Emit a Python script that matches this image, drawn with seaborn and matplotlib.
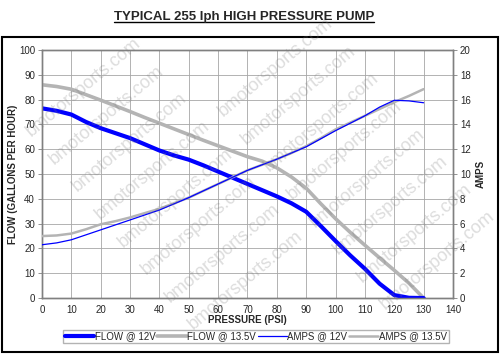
import numpy as np
import pandas as pd
import matplotlib
matplotlib.use("Agg")
import matplotlib.pyplot as plt
from matplotlib.patches import Rectangle
from matplotlib.lines import Line2D
import seaborn as sns

# ---------------------------------------------------
# data
# ---------------------------------------------------
pressure = [0, 5, 10, 15, 20, 25, 30, 35, 40, 45, 50, 55, 60, 65,
            70, 75, 80, 85, 90, 95, 100, 105, 110, 115, 120, 125, 130]

flow_12v = [76.5, 75.5, 74.0, 71.0, 68.5, 66.5, 64.5, 62.0, 59.5, 57.5, 55.8, 53.5, 51.0, 48.5,
            46.0, 43.5, 41.0, 38.2, 34.8, 29.0, 23.0, 17.2, 11.8, 5.8, 1.2, 0.1, 0.0]
flow_135v = [86.0, 85.3, 84.2, 82.0, 79.8, 77.5, 75.2, 72.8, 70.5, 68.2, 65.9, 63.6, 61.4, 59.2,
             57.0, 55.2, 52.5, 48.8, 44.3, 38.0, 32.0, 26.5, 21.3, 16.2, 11.2, 6.0, 0.0]
amps_12v = [4.3, 4.45, 4.7, 5.1, 5.5, 5.9, 6.3, 6.7, 7.1, 7.6, 8.1, 8.65, 9.2, 9.75,
            10.3, 10.75, 11.2, 11.7, 12.2, 12.85, 13.5, 14.1, 14.7, 15.4, 15.95, 15.9, 15.75]
amps_135v = [5.0, 5.05, 5.2, 5.55, 5.95, 6.2, 6.5, 6.85, 7.2, 7.65, 8.1, 8.65, 9.2, 9.75,
             10.3, 10.75, 11.2, 11.7, 12.25, 12.9, 13.6, 14.15, 14.7, 15.25, 15.8, 16.3, 16.85]

df = pd.DataFrame({
    "pressure": pressure,
    "flow_12v": flow_12v,
    "flow_135v": flow_135v,
    "amps_12v": amps_12v,
    "amps_135v": amps_135v,
})

sns.set_style("white")
plt.rcParams["font.family"] = ["Liberation Sans", "DejaVu Sans"]

BLUE = "#0000ff"
GREY = "#b4b4b4"
FRAME = "#808080"

fig = plt.figure(figsize=(5, 3.54), dpi=100)
ax = fig.add_axes([0.084, 0.158, 0.822, 0.7006])
ax2 = ax.twinx()

sns.lineplot(data=df, x="pressure", y="flow_12v", ax=ax, color=BLUE, lw=3.0,
             label="FLOW @ 12V", legend=False, zorder=4)
sns.lineplot(data=df, x="pressure", y="flow_135v", ax=ax, color=GREY, lw=2.6,
             label="FLOW @ 13.5V", legend=False, zorder=3)
sns.lineplot(data=df, x="pressure", y="amps_12v", ax=ax2, color=BLUE, lw=0.9,
             label="AMPS @ 12V", legend=False, zorder=4)
sns.lineplot(data=df, x="pressure", y="amps_135v", ax=ax2, color=GREY, lw=1.8,
             label="AMPS @ 13.5V", legend=False, zorder=3)
# blue amps line drawn above grey one
ax2.lines[0].set_zorder(5)

ax.set_xlim(0, 140)
ax.set_ylim(0, 100)
ax2.set_ylim(0, 20)
ax.set_xticks(np.arange(0, 141, 10))
ax.set_yticks(np.arange(0, 101, 10))
ax2.set_yticks(np.arange(0, 21, 2))

ax.grid(True, color="#a6a6a6", lw=0.6)
ax.set_axisbelow(True)

for a in (ax, ax2):
    for s in a.spines.values():
        s.set_color(FRAME)
        s.set_linewidth(1.0)
    a.tick_params(labelsize=7, length=3, width=0.6, color=FRAME, pad=2)

ax.set_xlabel("PRESSURE (PSI)", fontsize=7, fontweight="bold", labelpad=0)
ax.set_ylabel("FLOW (GALLONS PER HOUR)", fontsize=7, fontweight="bold")
ax2.set_ylabel("AMPS", fontsize=7, fontweight="bold")
ax.yaxis.set_label_coords(-0.058, 0.5)
ax2.yaxis.set_label_coords(1.056, 0.5)

# legend under the plot
h1, l1 = ax.get_legend_handles_labels()
h2, l2 = ax2.get_legend_handles_labels()
fig.legend(h1 + h2, l1 + l2, loc="center", bbox_to_anchor=(256 / 500, 1 - 336.5 / 354),
           ncol=4, fontsize=7, frameon=True, fancybox=False, edgecolor="#a0a0a0",
           handlelength=3.0, handletextpad=0.05, columnspacing=0.2,
           borderpad=0.2, borderaxespad=0)

# outer frame of the chart area
fig.add_artist(Rectangle((0.003, 0.0056), 0.993, 0.89, transform=fig.transFigure,
                         fill=False, edgecolor="black", lw=1.5, zorder=10))

# underlined title
title = fig.text(244 / 500, 1 - 17 / 354, "TYPICAL 255 lph HIGH PRESSURE PUMP",
                 ha="center", va="center", fontsize=9.5, fontweight="bold")

# watermark
ang = np.deg2rad(40)
u = np.array([np.cos(ang), -np.sin(ang)])
n = np.array([np.sin(ang), np.cos(ang)])
marks = []
for i in range(-6, 8):
    for j in range(-12, 20):
        cx, cy = np.array([60, 60]) + i * 160 * u + j * 36 * n
        if 40 < cx < 460 and 30 < cy < 330:
            marks.append(fig.text(cx / 500, 1 - cy / 354, "bmotorsports.com", rotation=40,
                                  ha="center", va="center", fontsize=13, color="#7a7a7a",
                                  alpha=0.26, zorder=20, rotation_mode="anchor"))

fig.canvas.draw()
# keep only watermark texts that sit fully inside the picture
for t in marks:
    e = t.get_window_extent()
    if e.x0 < 0 or e.y0 < 0 or e.x1 > 500 or e.y1 > 354:
        t.remove()

bb = title.get_window_extent().transformed(fig.transFigure.inverted())
fig.add_artist(Line2D([bb.x0, bb.x1], [bb.y0 + 0.002, bb.y0 + 0.002],
                      transform=fig.transFigure, color="black", lw=1.0))

fig.savefig("out.png", dpi=100)
